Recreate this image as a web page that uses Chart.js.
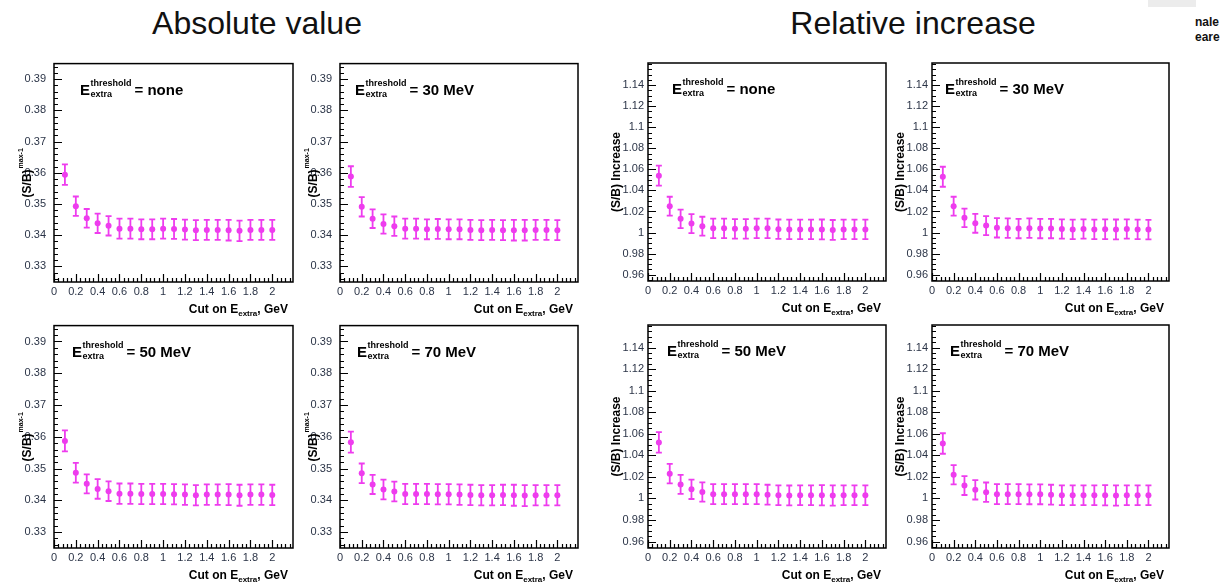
<!DOCTYPE html>
<html>
<head>
<meta charset="utf-8">
<script src="https://cdn.jsdelivr.net/npm/chart.js@4/dist/chart.umd.min.js"></script>
<style>
  body { margin: 0; background: #fff; width: 1232px; height: 582px; overflow: hidden; position: relative;
         font-family: "Liberation Sans", Arial, sans-serif; }
  canvas { position: absolute; }
  .head { position: absolute; top: 7px; width: 400px; text-align: center; font-size: 32px; line-height: 1; color: #111; }
  .side { position: absolute; left: 1195px; font-size: 12px; line-height: 1; font-weight: bold; color: #111; }
</style>
</head>
<body>
<div class="head" style="left:57px">Absolute value</div>
<div class="head" style="left:713px">Relative increase</div>
<div style="position:absolute;left:1148px;top:0;width:48px;height:7px;background:#ececec"></div>
<div class="side" style="top:16px">nale</div>
<div class="side" style="top:31px">eare</div>

<script>
// cut on E_extra (GeV), one point per bin
const cutE = [0.1, 0.2, 0.3, 0.4, 0.5, 0.6, 0.7, 0.8, 0.9, 1.0, 1.1, 1.2, 1.3, 1.4, 1.5, 1.6, 1.7, 1.8, 1.9, 2.0];

// tick labels
const xTicks = [0, 0.2, 0.4, 0.6, 0.8, 1, 1.2, 1.4, 1.6, 1.8, 2];
const absTicks = [0.33, 0.34, 0.35, 0.36, 0.37, 0.38, 0.39];
const relTicks = [0.96, 0.98, 1, 1.02, 1.04, 1.06, 1.08, 1.1, 1.12, 1.14];

// S/B absolute value, per threshold
const absNone = [0.3594, 0.3493, 0.3454, 0.3438, 0.3430, 0.3421, 0.3421, 0.3419, 0.3419, 0.3421, 0.3420, 0.3418, 0.3416, 0.3417, 0.3417, 0.3416, 0.3414, 0.3417, 0.3417, 0.3417];
const abs30   = [0.3588, 0.3491, 0.3453, 0.3436, 0.3429, 0.3421, 0.3421, 0.3419, 0.3420, 0.3419, 0.3419, 0.3417, 0.3416, 0.3417, 0.3416, 0.3416, 0.3416, 0.3417, 0.3417, 0.3416];
const abs50   = [0.3587, 0.3487, 0.3452, 0.3436, 0.3429, 0.3421, 0.3421, 0.3420, 0.3420, 0.3420, 0.3419, 0.3418, 0.3416, 0.3418, 0.3418, 0.3418, 0.3416, 0.3418, 0.3418, 0.3417];
const abs70   = [0.3583, 0.3485, 0.3450, 0.3434, 0.3428, 0.3420, 0.3420, 0.3420, 0.3419, 0.3419, 0.3418, 0.3417, 0.3416, 0.3416, 0.3417, 0.3416, 0.3415, 0.3416, 0.3416, 0.3416];
const absErr  = [0.0033, 0.0031, 0.0030, 0.0031, 0.0031, 0.0032, 0.0032, 0.0032, 0.0032, 0.0032, 0.0032, 0.0032, 0.0032, 0.0032, 0.0032, 0.0033, 0.0033, 0.0032, 0.0032, 0.0032];

// S/B relative increase, per threshold
const relNone = [1.054, 1.025, 1.013, 1.0085, 1.006, 1.004, 1.004, 1.0035, 1.0035, 1.004, 1.004, 1.0032, 1.003, 1.003, 1.003, 1.003, 1.0025, 1.003, 1.003, 1.003];
const rel30   = [1.053, 1.025, 1.014, 1.0088, 1.0066, 1.0045, 1.0042, 1.0038, 1.0042, 1.0038, 1.0038, 1.0034, 1.003, 1.0034, 1.003, 1.0032, 1.003, 1.0034, 1.003, 1.0028];
const rel50   = [1.052, 1.023, 1.013, 1.0085, 1.006, 1.004, 1.004, 1.004, 1.004, 1.004, 1.0035, 1.003, 1.0028, 1.003, 1.003, 1.003, 1.0028, 1.003, 1.003, 1.003];
const rel70   = [1.051, 1.022, 1.012, 1.008, 1.0058, 1.004, 1.004, 1.004, 1.0038, 1.0038, 1.0035, 1.003, 1.003, 1.003, 1.003, 1.003, 1.0028, 1.003, 1.003, 1.003];
const relErr  = [0.0095, 0.0090, 0.0088, 0.0090, 0.0090, 0.0092, 0.0092, 0.0092, 0.0092, 0.0092, 0.0092, 0.0092, 0.0092, 0.0092, 0.0092, 0.0094, 0.0094, 0.0092, 0.0092, 0.0092];

const FONT = '"Liberation Sans", Arial, sans-serif';
const MARKER = '#ee3cee';
const LEFT = 56, TOP = 14, RIGHT = 14, BOTTOM = 42;

// frame = [left, top, right, bottom] of the plot box on the page
const panels = [
  { frame: [54, 63, 293, 282],  kind: 'abs', thr: 'none',   vals: absNone, errs: absErr, dx: 26 },
  { frame: [340, 63, 578, 282], kind: 'abs', thr: '30 MeV', vals: abs30,   errs: absErr, dx: 15 },
  { frame: [648, 63, 886, 281], kind: 'rel', thr: 'none',   vals: relNone, errs: relErr, dx: 24 },
  { frame: [932, 63, 1169, 281],kind: 'rel', thr: '30 MeV', vals: rel30,   errs: relErr, dx: 13 },
  { frame: [54, 325, 293, 548], kind: 'abs', thr: '50 MeV', vals: abs50,   errs: absErr, dx: 18 },
  { frame: [340, 325, 578, 548],kind: 'abs', thr: '70 MeV', vals: abs70,   errs: absErr, dx: 17 },
  { frame: [648, 325, 886, 548],kind: 'rel', thr: '50 MeV', vals: rel50,   errs: relErr, dx: 19 },
  { frame: [932, 325, 1169, 548],kind: 'rel', thr: '70 MeV', vals: rel70,  errs: relErr, dx: 18 }
];

const axisSetup = {
  abs: { min: 0.3250, max: 0.3950, ticks: absTicks, minor: 0.002, pad: 8 },
  rel: { min: 0.9540, max: 1.1610, ticks: relTicks, minor: 0.005, pad: 4 }
};

function stepsBetween(min, max, step) {
  const out = [];
  for (let k = Math.ceil(min / step - 1e-9); k * step <= max + 1e-9; k++) out.push(k * step);
  return out;
}

// ROOT-ish look: frame, inner ticks, error bars and text
const rootStyle = {
  id: 'rootStyle',
  beforeDatasetsDraw(chart, args, opts) {
    const { ctx, scales: { x, y } } = chart;
    const pts = chart.data.datasets[0].data;
    ctx.save();
    ctx.strokeStyle = MARKER;
    ctx.lineWidth = 1.8;
    pts.forEach((p, i) => {
      const px = x.getPixelForValue(p.x);
      const hi = y.getPixelForValue(p.y + opts.errs[i]);
      const lo = y.getPixelForValue(p.y - opts.errs[i]);
      ctx.beginPath();
      ctx.moveTo(px, hi); ctx.lineTo(px, lo);
      ctx.moveTo(px - 3, hi); ctx.lineTo(px + 3, hi);
      ctx.moveTo(px - 3, lo); ctx.lineTo(px + 3, lo);
      ctx.stroke();
    });
    ctx.restore();
  },
  afterDraw(chart, args, opts) {
    const { ctx, chartArea: a, scales: { x, y } } = chart;
    const ax = axisSetup[opts.kind];
    ctx.save();
    ctx.strokeStyle = '#000';
    ctx.lineWidth = 1.5;
    ctx.strokeRect(a.left, a.top, a.right - a.left, a.bottom - a.top);

    ctx.lineWidth = 1.2;
    ctx.beginPath();
    stepsBetween(ax.min, ax.max, ax.minor).forEach(v => {
      const py = Math.round(y.getPixelForValue(v)) + 0.5;
      ctx.moveTo(a.left, py); ctx.lineTo(a.left + 4, py);
    });
    ax.ticks.forEach(v => {
      const py = Math.round(y.getPixelForValue(v)) + 0.5;
      ctx.moveTo(a.left, py); ctx.lineTo(a.left + 8, py);
    });
    stepsBetween(0, x.max, 0.04).forEach(v => {
      const px = Math.round(x.getPixelForValue(v)) + 0.5;
      ctx.moveTo(px, a.bottom); ctx.lineTo(px, a.bottom - 4);
    });
    xTicks.forEach(v => {
      const px = Math.round(x.getPixelForValue(v)) + 0.5;
      ctx.moveTo(px, a.bottom); ctx.lineTo(px, a.bottom - 8);
    });
    ctx.stroke();

    // threshold annotation
    ctx.fillStyle = '#000';
    ctx.textBaseline = 'alphabetic';
    let tx = a.left + opts.dx;
    const ty = a.top + 31;
    ctx.font = 'bold 15px ' + FONT;
    ctx.fillText('E', tx, ty);
    tx += ctx.measureText('E').width + 0.5;
    ctx.font = 'bold 9px ' + FONT;
    ctx.fillText('threshold', tx, ty - 9);
    ctx.fillText('extra', tx, ty + 2);
    tx += ctx.measureText('threshold').width + 3;
    ctx.font = 'bold 15px ' + FONT;
    ctx.fillText('= ' + opts.thr, tx, ty);

    // x title, right aligned
    const parts = [['Cut on E', 'bold 12px ', 0], ['extra', 'bold 8px ', 3], [', GeV', 'bold 12px ', 0]];
    let total = 0;
    parts.forEach(p => { ctx.font = p[1] + FONT; total += ctx.measureText(p[0]).width; });
    let cx = a.right - 5 - total;
    const cy = a.bottom + 31;
    parts.forEach(p => {
      ctx.font = p[1] + FONT;
      ctx.fillText(p[0], cx, cy + p[2]);
      cx += ctx.measureText(p[0]).width;
    });

    // y title, rotated
    ctx.translate(a.left - (opts.kind === 'abs' ? 30 : 35), (a.top + a.bottom) / 2);
    ctx.rotate(-Math.PI / 2);
    ctx.textBaseline = 'middle';
    if (opts.kind === 'abs') {
      ctx.font = 'bold 12px ' + FONT;
      const w1 = ctx.measureText('(S/B)').width;
      ctx.font = 'bold 7px ' + FONT;
      const w2 = ctx.measureText('max-1').width;
      let sx = -(w1 + w2 + 1) / 2;
      ctx.font = 'bold 12px ' + FONT;
      ctx.fillText('(S/B)', sx, 4);
      ctx.font = 'bold 7px ' + FONT;
      ctx.fillText('max-1', sx + w1 + 1, -3);
    } else {
      ctx.font = 'bold 12px ' + FONT;
      ctx.textAlign = 'center';
      ctx.fillText('(S/B) Increase', 0, 4);
    }
    ctx.restore();
  }
};

panels.forEach(p => {
  const [fl, ft, fr, fb] = p.frame;
  const ax = axisSetup[p.kind];
  const cv = document.createElement('canvas');
  const w = fr - fl + LEFT + RIGHT, h = fb - ft + TOP + BOTTOM;
  cv.width = w; cv.height = h;
  cv.style.left = (fl - LEFT) + 'px';
  cv.style.top = (ft - TOP) + 'px';
  cv.style.width = w + 'px';
  cv.style.height = h + 'px';
  document.body.appendChild(cv);

  new Chart(cv, {
    type: 'scatter',
    data: {
      datasets: [{
        data: cutE.map((e, i) => ({ x: e, y: p.vals[i] })),
        backgroundColor: MARKER,
        borderColor: MARKER,
        borderWidth: 0,
        pointRadius: 3,
        pointHoverRadius: 3,
        showLine: false
      }]
    },
    options: {
      responsive: false,
      animation: false,
      events: [],
      layout: { padding: { left: 0, top: TOP, right: RIGHT, bottom: 0 } },
      plugins: {
        legend: { display: false },
        tooltip: { enabled: false },
        rootStyle: { kind: p.kind, thr: p.thr, errs: p.errs, dx: p.dx }
      },
      scales: {
        x: {
          type: 'linear', min: 0, max: 2.19,
          grid: { display: false, drawTicks: false },
          border: { display: false },
          afterBuildTicks: s => { s.ticks = xTicks.map(v => ({ value: v })); },
          afterFit: s => { s.height = BOTTOM; },
          ticks: { autoSkip: false, maxRotation: 0, minRotation: 0, padding: 3,
                   color: '#2b3447', font: { family: FONT, size: 11 },
                   callback: v => String(v) }
        },
        y: {
          type: 'linear', min: ax.min, max: ax.max,
          grid: { display: false, drawTicks: false },
          border: { display: false },
          afterBuildTicks: s => { s.ticks = ax.ticks.map(v => ({ value: v })); },
          afterFit: s => { s.width = LEFT; },
          ticks: { autoSkip: false, padding: ax.pad,
                   color: '#2b3447', font: { family: FONT, size: 11 },
                   callback: v => String(v) }
        }
      }
    },
    plugins: [rootStyle]
  });
});
</script>
</body>
</html>
